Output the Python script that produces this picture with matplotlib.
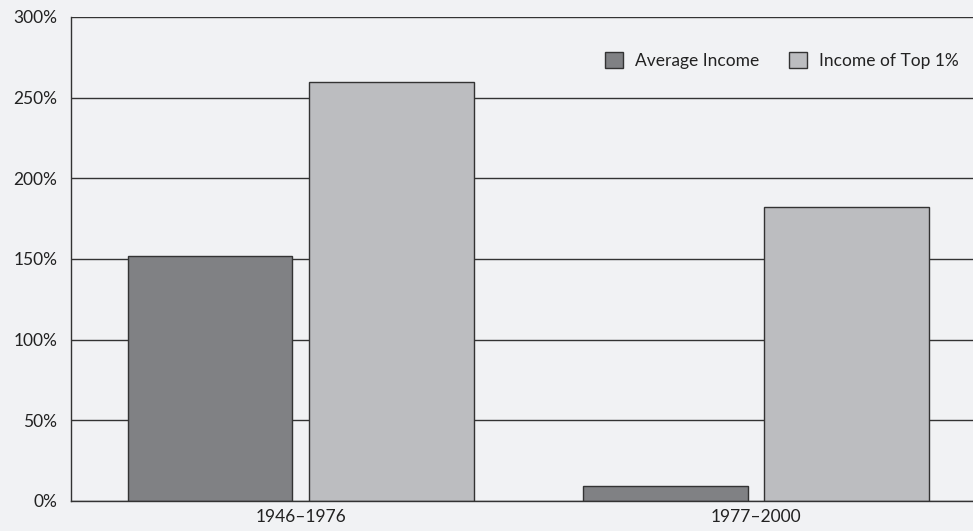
import numpy as np
import matplotlib.pyplot as plt

periods = ['1946–1976', '1977–2000']
averageIncome = [152, 9]
top1Income = [260, 182]
yTicks = [0, 50, 100, 150, 200, 250, 300]

bg = '#f1f2f4'
plt.rcParams['font.family'] = ['Lato', 'DejaVu Sans']

fig = plt.figure(figsize=(9.73, 5.31), dpi=100, facecolor=bg)
ax = fig.add_axes([0.073, 0.0565, 0.927, 0.9115])
ax.set_facecolor(bg)

x = np.arange(len(periods))
width = 0.362
ax.bar(x - 0.199, averageIncome, width, color='#808184', edgecolor='#333333',
       linewidth=1, label='Average Income', zorder=3)
ax.bar(x + 0.199, top1Income, width, color='#bcbdc0', edgecolor='#333333',
       linewidth=1, label='Income of Top 1%', zorder=3)

ax.set_ylim(0, 300)
ax.set_xlim(-0.504, 1.476)
ax.set_yticks(yTicks)
ax.set_yticklabels([f'{t}%' for t in yTicks])
ax.set_xticks(x)
ax.set_xticklabels(periods)
ax.tick_params(axis='both', length=0, labelsize=12.5, colors='#222222')
ax.tick_params(axis='y', pad=10)
ax.tick_params(axis='x', pad=6)

ax.yaxis.grid(True, color='#333333', linewidth=1)
ax.set_axisbelow(True)
for s in ['top', 'right']:
    ax.spines[s].set_visible(False)
for s in ['left', 'bottom']:
    ax.spines[s].set_color('#333333')
    ax.spines[s].set_linewidth(1)
ax.spines['bottom'].set_zorder(4)

leg = ax.legend(loc='upper right', bbox_to_anchor=(1.002, 0.96), ncol=2, frameon=False,
                fontsize=12.5, handlelength=1.05, handleheight=1.05, columnspacing=1.7,
                handletextpad=0.7)
for t in leg.get_texts():
    t.set_color('#222222')

fig.savefig('out.png', dpi=100, facecolor=bg)
